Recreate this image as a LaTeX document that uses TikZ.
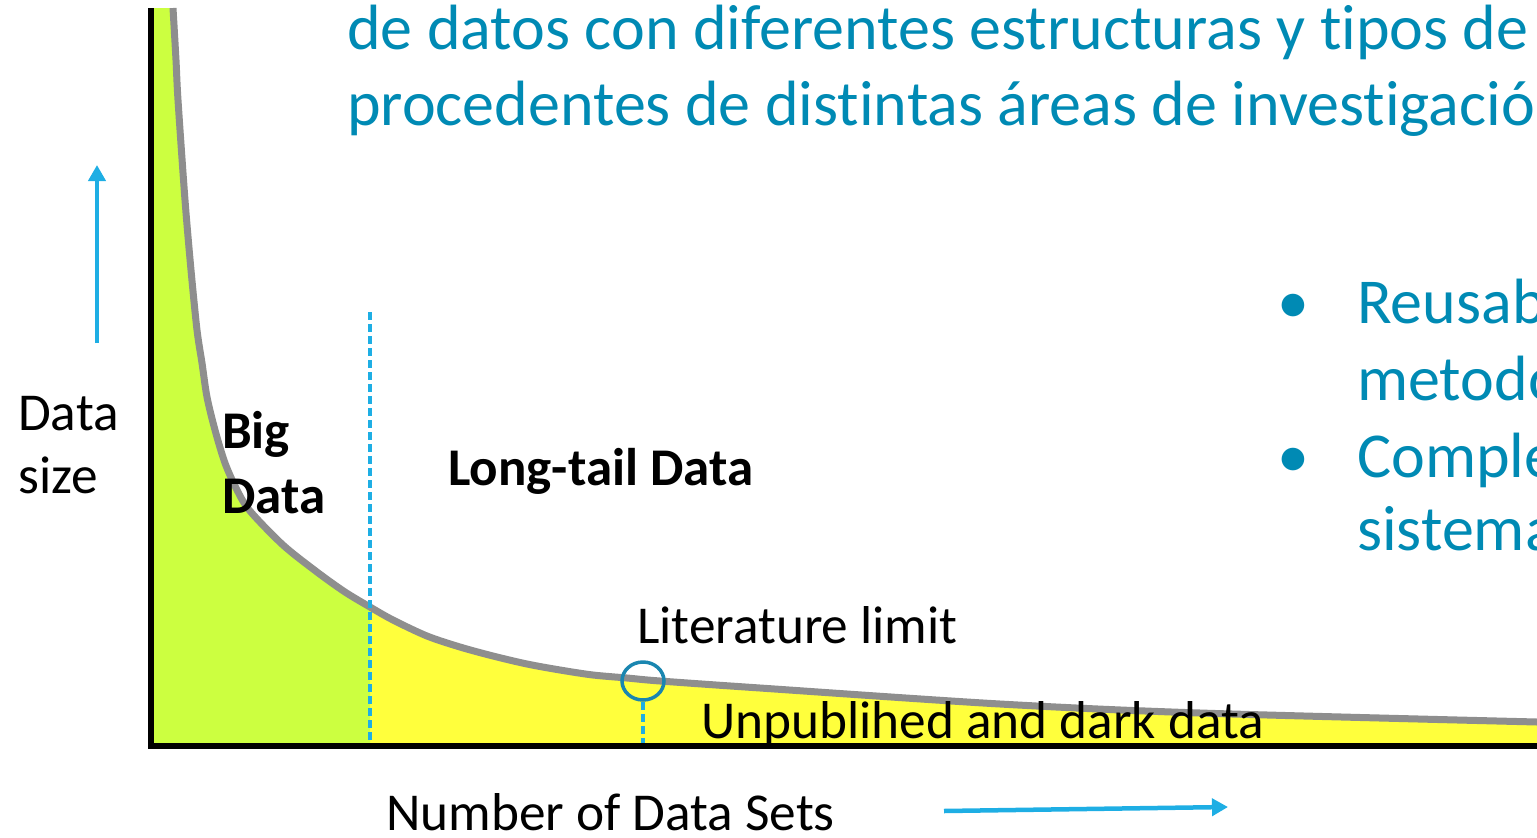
\documentclass[tikz,border=0pt]{standalone}
\usepackage{fontspec}
\setmainfont{Carlito}[Ligatures=NoCommon]
\usetikzlibrary{arrows.meta,shapes.geometric}
\definecolor{titleblue}{RGB}{0,138,180}
\definecolor{arrowblue}{RGB}{30,174,228}
\definecolor{circblue}{RGB}{26,134,176}
\definecolor{lime}{RGB}{204,255,64}
\definecolor{yell}{RGB}{255,255,60}
\definecolor{curvegray}{RGB}{142,142,142}
\tikzset{
  lbl/.style={anchor=base west, inner sep=0pt, font=\fontsize{53.3}{64}\selectfont},
  boldlbl/.style={anchor=base west, inner sep=0pt, font=\fontsize{53}{64}\selectfont\bfseries},
  ttl/.style={anchor=base west, inner sep=0pt, text=titleblue, font=\fontsize{64}{76}\selectfont},
  bul/.style={anchor=base, inner sep=0pt, text=titleblue, font=\fontsize{64}{76}\selectfont},
  bluearrow/.style={draw=arrowblue, line width=4.5pt, -{Triangle[length=16pt,width=17pt]}},
  dashline/.style={draw=arrowblue, line width=3.5pt, dash pattern=on 8pt off 4pt},
}
\def\curvepts{(173,8) (176,60) (178,100) (185,200) (191,270) (197,330) (202,363) (207,397) (215,430) (225,463) (237,490) (250,511) (283,545) (317,572) (345,592) (370,607) (393,620) (427,636) (460,647) (493,656) (527,664) (560,670) (593,675) (627,678) (660,681) (760,688) (1000,704) (1200,713) (1537,722)}
\begin{document}
\begin{tikzpicture}[x=1pt,y=-1pt]
\useasboundingbox (0,0) rectangle (1537,838);
\clip (0,0) rectangle (1537,838);
% fills
\fill[yell] (151,8) -- plot[smooth] coordinates {\curvepts} -- (1537,746) -- (151,746) -- cycle;
\begin{scope}
\clip (140,0) rectangle (370,760);
\fill[lime] (151,8) -- plot[smooth] coordinates {\curvepts} -- (1537,746) -- (151,746) -- cycle;
\end{scope}
% curve
\draw[curvegray, line width=7pt] plot[smooth] coordinates {\curvepts};
% dashed lines
\coordinate (d1top) at (370,312);
\coordinate (d1bot) at (370,745);
\draw[dashline] (d1top) -- (d1bot);
\node[draw=circblue, line width=3.5pt, ellipse, minimum width=42pt, minimum height=38pt, inner sep=0pt] (lim) at (643,681) {};
\coordinate (d2bot) at (643,746);
\draw[dashline] (lim.south) -- (d2bot);
% axes
\coordinate (otop) at (151,8);
\coordinate (orig) at (151,746);
\coordinate (xend) at (1540,746);
\draw[black, line width=6pt] (otop) -- (orig);
\draw[black, line width=6pt] (148,746) -- (xend);
% blue arrows
\coordinate (ya) at (97,343);
\coordinate (yb) at (97,165);
\draw[bluearrow] (ya) -- (yb);
\coordinate (xa) at (944,811);
\coordinate (xb) at (1228,807);
\draw[bluearrow] (xa) -- (xb);
% labels
\node[lbl] (ds1) at (18,430) {Data};
\node[lbl] (ds2) at (18,493) {size};
\node[boldlbl] (bd1) at (222,448) {Big};
\node[boldlbl] (bd2) at (222,513) {Data};
\node[boldlbl] (lt) at (448,485) {Long-tail Data};
\node[lbl] (ll) at (637,643) {Literature limit};
\node[lbl] (ud) at (701,738) {Unpublihed and dark data};
\node[lbl] (nd) at (386,830) {Number of Data Sets};
% title
\node[ttl] (t1) at (347,49) {de datos con diferentes estructuras y tipos de};
\node[ttl] (t2) at (347,125) {procedentes de distintas áreas de investigación};
% bullets
\node[bul] (b1) at (1293,323) {•};
\node[bul] (b2) at (1293,477) {•};
\node[ttl] (r1) at (1357,323) {Reusab};
\node[ttl] (r2) at (1357,400) {metodo};
\node[ttl] (r3) at (1357,477) {Comple};
\node[ttl] (r4) at (1357,550) {sistema};
\end{tikzpicture}
\end{document}
